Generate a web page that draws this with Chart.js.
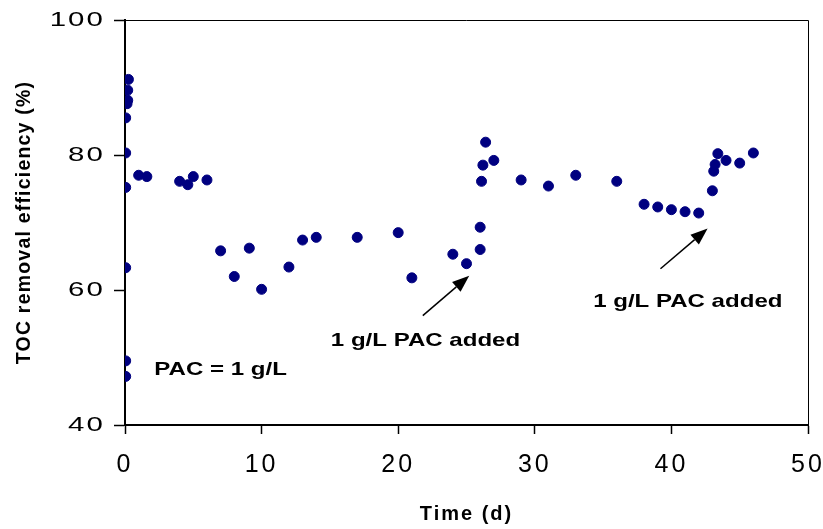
<!DOCTYPE html>
<html>
<head>
<meta charset="utf-8">
<script src="https://cdn.jsdelivr.net/npm/chart.js@4"></script>
<style>
  html, body { margin: 0; padding: 0; background: #fff; }
  canvas { display: block; }
</style>
</head>
<body>
<canvas id="myChart" width="823" height="529"></canvas>
<script>
"use strict";

// data
const days = [
   0.25, 0.2, 0.2, 0.15, 0.05, 0.05, 0.05, 0.05, 0.05, 0.05,
   1.0, 1.6, 4.0, 4.6, 5.0, 6.0, 7.0, 8.0, 9.1, 10.0,
   12.0, 13.0, 14.0, 17.0, 20.0, 21.0, 24.0, 25.0, 26.0, 26.0,
   26.1, 26.2, 26.4, 27.0, 29.0, 31.0, 33.0, 36.0, 38.0, 39.0,
   40.0, 41.0, 42.0, 43.0, 43.1, 43.2, 43.4, 44.0, 45.0, 46.0,
];
const removal = [
   91.2, 89.6, 88.1, 87.6, 85.5, 80.3, 75.2, 63.3, 49.5, 47.2,
   77.0, 76.8, 76.1, 75.6, 76.8, 76.3, 65.8, 62.0, 66.2, 60.1,
   63.4, 67.4, 67.8, 67.8, 68.5, 61.8, 65.3, 63.9, 66.0, 69.3,
   76.1, 78.5, 81.9, 79.2, 76.3, 75.4, 77.0, 76.1, 72.7, 72.3,
   71.9, 71.6, 71.4, 74.7, 77.6, 78.6, 80.2, 79.2, 78.8, 80.3,
];
const xTicks = [0, 10, 20, 30, 40, 50];
const yTicks = [40, 60, 80, 100];

// annotations in data units
const notes = [
   { text: "1 g/L PAC added", x: 22.0, y: 52.5 },
   { text: "1 g/L PAC added", x: 41.2, y: 58.25 },
   { text: "PAC = 1 g/L", x: 7.0, y: 48.2 },
];
const arrows = [
   { from: [21.8, 56.2], to: [25.2, 62.1] },
   { from: [39.2, 63.15], to: [42.65, 69.1] },
];

const FONT = "'Liberation Sans', Arial, Helvetica, sans-serif";

const extras = {
   id: "extras",
   afterDraw(chart) {
      const { ctx, chartArea: a } = chart;
      const x = chart.scales.x;
      const y = chart.scales.y;
      ctx.save();

      // top / right frame
      ctx.strokeStyle = "#000";
      ctx.lineWidth = 1;
      ctx.beginPath();
      ctx.moveTo(a.left, Math.round(a.top) + 0.5);
      ctx.lineTo(Math.round(a.right) + 0.5, Math.round(a.top) + 0.5);
      ctx.lineTo(Math.round(a.right) + 0.5, a.bottom);
      ctx.stroke();

      // arrows
      ctx.lineWidth = 1.5;
      ctx.fillStyle = "#000";
      arrows.forEach((ar) => {
         const x0 = x.getPixelForValue(ar.from[0]);
         const y0 = y.getPixelForValue(ar.from[1]);
         const x1 = x.getPixelForValue(ar.to[0]);
         const y1 = y.getPixelForValue(ar.to[1]);
         const ang = Math.atan2(y1 - y0, x1 - x0);
         const hl = 17;
         const hw = 6.5;
         const bx = x1 - hl * Math.cos(ang);
         const by = y1 - hl * Math.sin(ang);
         ctx.beginPath();
         ctx.moveTo(x0, y0);
         ctx.lineTo(bx, by);
         ctx.stroke();
         ctx.beginPath();
         ctx.moveTo(x1, y1);
         ctx.lineTo(bx + hw * Math.sin(ang), by - hw * Math.cos(ang));
         ctx.lineTo(bx - hw * Math.sin(ang), by + hw * Math.cos(ang));
         ctx.closePath();
         ctx.fill();
      });

      // text notes (stretched like the original)
      ctx.font = "bold 18.5px " + FONT;
      ctx.textAlign = "center";
      ctx.textBaseline = "middle";
      notes.forEach((n) => {
         ctx.save();
         ctx.translate(x.getPixelForValue(n.x), y.getPixelForValue(n.y));
         ctx.scale(1.3, 1);
         ctx.fillText(n.text, 0, 0);
         ctx.restore();
      });
      ctx.restore();
   },
};

const ctx = document.getElementById("myChart").getContext("2d");
const myChart = new Chart(ctx, {
   type: "scatter",
   data: {
      datasets: [
         {
            label: "TOC removal",
            data: days.map((d, i) => ({ x: d, y: removal[i] })),
            backgroundColor: "#000080",
            borderColor: "#000080",
            pointRadius: 5,
            borderWidth: 1,
         },
      ],
   },
   options: {
      responsive: false,
      animation: false,
      devicePixelRatio: 1,
      layout: { padding: { top: 20, right: 15, left: 0, bottom: 0 } },
      plugins: {
         legend: { display: false },
         tooltip: { enabled: false },
      },
      scales: {
         x: {
            type: "linear",
            min: 0,
            max: 50,
            afterBuildTicks: (scale) => {
               scale.ticks = xTicks.map((v) => ({ value: v }));
            },
            afterFit: (scale) => {
               scale.height = 104;
               scale.paddingLeft = 0;
               scale.paddingRight = 0;
            },
            ticks: {
               color: "#000",
               font: { family: FONT, size: 25 },
               padding: 16,
               maxRotation: 0,
            },
            grid: {
               drawOnChartArea: false,
               drawTicks: true,
               tickLength: 9,
               tickColor: "#000",
               tickWidth: 1.5,
            },
            border: { color: "#000", width: 2 },
            title: {
               display: true,
               text: "Time (d)",
               color: "#000",
               font: { family: FONT, size: 20, weight: "bold" },
               padding: { top: 0, bottom: 3 },
            },
         },
         y: {
            min: 40,
            max: 100,
            afterBuildTicks: (scale) => {
               scale.ticks = yTicks.map((v) => ({ value: v }));
            },
            afterFit: (scale) => {
               scale.width = 125;
               scale.paddingTop = 0;
               scale.paddingBottom = 0;
            },
            ticks: {
               color: "#000",
               font: { family: FONT, size: 21 },
               padding: 9,
            },
            grid: {
               drawOnChartArea: false,
               drawTicks: true,
               tickLength: 11,
               tickColor: "#000",
               tickWidth: 1.5,
            },
            border: { color: "#000", width: 2 },
            title: {
               display: true,
               text: "TOC removal efficiency (%)",
               color: "#000",
               font: { family: FONT, size: 19.5, weight: "bold" },
               padding: { top: 13, bottom: 0 },
            },
         },
      },
   },
   plugins: [extras],
});

// the original text is drawn wider than the font: stretch / space it
const stretchLabels = function (scale, sx, spacing) {
   scale.drawLabels = function (area) {
      const c = scale.ctx;
      scale.getLabelItems(area).forEach((item) => {
         const o = item.options;
         c.save();
         c.translate(o.translation[0], o.translation[1]);
         c.scale(sx, 1);
         c.font = item.font.string;
         c.fillStyle = o.color;
         c.textAlign = o.textAlign;
         c.textBaseline = o.textBaseline;
         c.letterSpacing = spacing;
         c.fillText(item.label, 0, item.textOffset);
         c.restore();
      });
   };
};
const spaceTitle = function (scale, px) {
   const orig = scale.drawTitle.bind(scale);
   scale.drawTitle = function () {
      scale.ctx.save();
      scale.ctx.letterSpacing = px;
      orig();
      scale.ctx.restore();
   };
};
stretchLabels(myChart.scales.y, 1.4, "1.5px");
stretchLabels(myChart.scales.x, 1.0, "3px");
spaceTitle(myChart.scales.x, "2px");
spaceTitle(myChart.scales.y, "1.2px");
myChart.draw();
</script>
</body>
</html>
